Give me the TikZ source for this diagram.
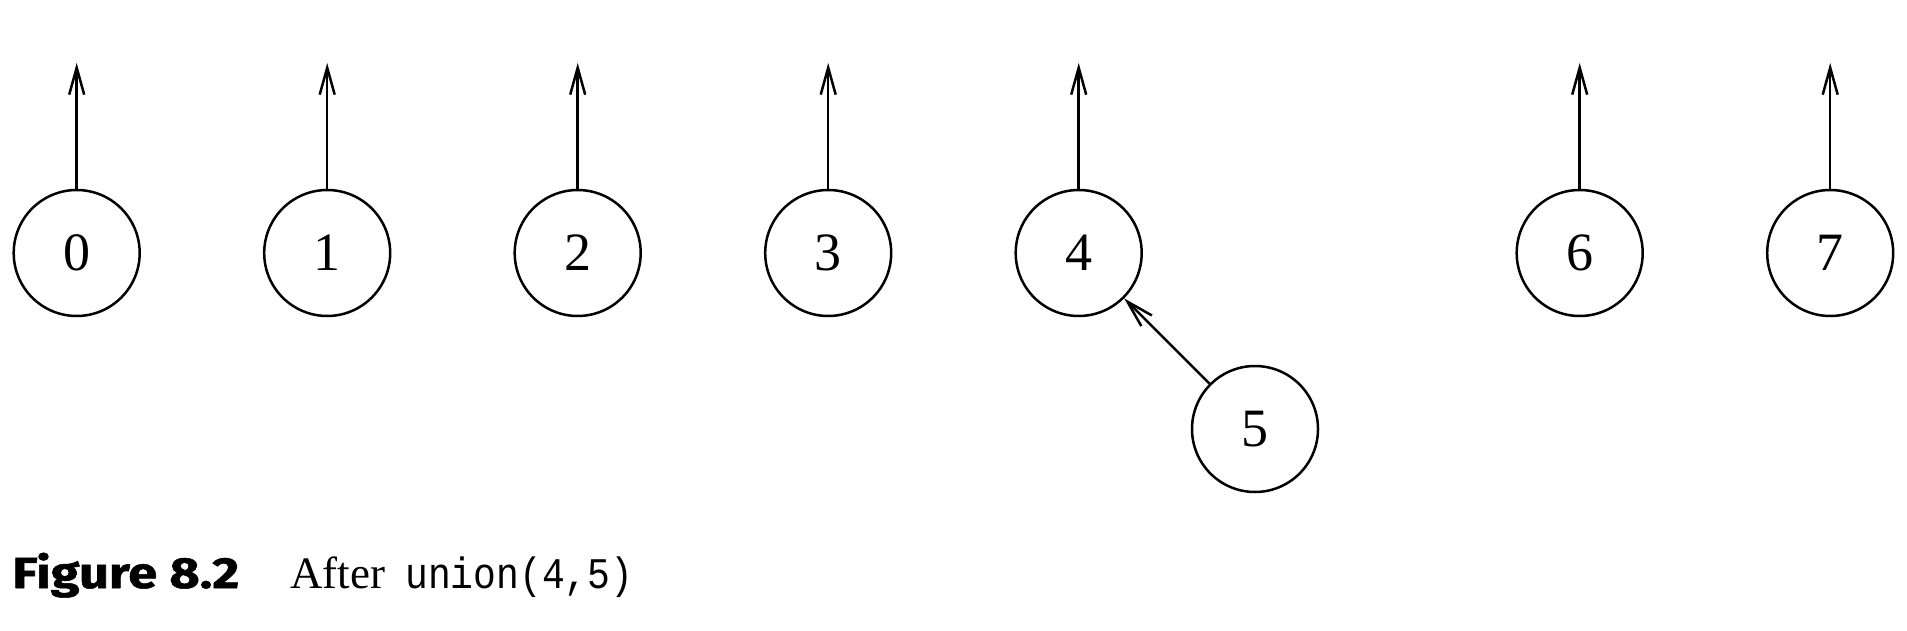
\documentclass[tikz,border=0pt]{standalone}
\usepackage{fontspec}
\usetikzlibrary{arrows.meta}
\newfontfamily\digitfont{Liberation Serif}
\newfontfamily\capsans{Fira Sans}[BoldFeatures={FakeBold=1.2}]
\newfontfamily\capserif{Liberation Serif}
\newfontfamily\capmono{Liberation Mono}
\tikzset{
  setnode/.style={circle, draw, line width=2.5pt, minimum size=126pt, inner sep=0pt,
    font=\digitfont\fontsize{54}{60}\selectfont},
  ptr/.style={line width=2.5pt, -{Straight Barb[length=27pt,width=15pt]}},
}
\begin{document}
\begin{tikzpicture}[x=1pt,y=-1pt]
\useasboundingbox (0,0) rectangle (1907,631);
\foreach \i in {0,1,2,3,4,6,7} {
  \node[setnode] (n\i) at (76.7+250.5*\i,253) {\i};
  \coordinate (t\i) at (76.7+250.5*\i,63);
  \draw[ptr] (n\i.north) -- (t\i);
}
\node[setnode] (n5) at (1255,429) {5};
\draw[ptr] (n5) -- (n4);
\node[anchor=base west, inner sep=0pt] (figlbl) at (12,588)
  {\scalebox{1.2}[1]{\capsans\bfseries\fontsize{43.5}{50}\selectfont Figure 8.2}};
\node[anchor=base west, inner sep=0pt] (after) at (290,588)
  {\capserif\fontsize{45}{50}\selectfont After};
\node[anchor=base west, inner sep=0pt] (code) at (405,588)
  {\scalebox{1}[1.15]{\capmono\fontsize{38}{44}\selectfont union(4,5)}};
\end{tikzpicture}
\end{document}
